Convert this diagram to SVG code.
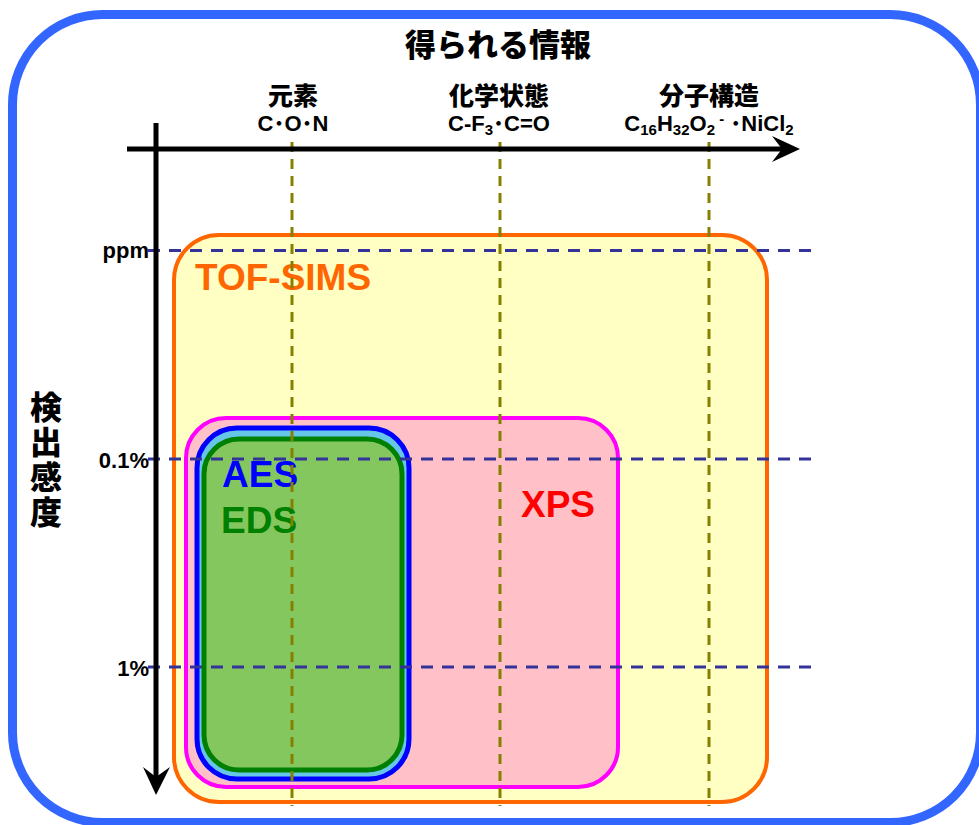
<svg xmlns="http://www.w3.org/2000/svg" width="979" height="825" viewBox="0 0 979 825">
<style>
.jp{font-family:"Liberation Sans","Noto Sans CJK JP",sans-serif;font-weight:900;fill:#000}
.lbl{font-family:"Liberation Sans",Arial,sans-serif;font-weight:bold}
.vd{stroke:#858000;stroke-width:3;stroke-dasharray:10,7;fill:none}
.hd{stroke:#333399;stroke-width:3;stroke-dasharray:12,9;fill:none}
.ax{stroke:#000;stroke-width:5;fill:none}
</style>
<rect x="0" y="0" width="979" height="825" fill="#fff"/>
<rect id="frame" x="12.5" y="14.5" width="968" height="808" rx="90" fill="#fff" stroke="#3366FF" stroke-width="9"/>
<g id="tofsims">
<rect x="174" y="235" width="593" height="567" rx="45" fill="#FFFFC4" stroke="#FF6600" stroke-width="4"/>
<text class="lbl" x="195" y="290" font-size="37" fill="#FF6600">TOF-SIMS</text>
</g>
<g id="xps">
<rect x="186" y="418" width="432" height="369" rx="40" fill="#FFC0C8" stroke="#FF00FF" stroke-width="4"/>
<text class="lbl" x="521" y="517" font-size="37" fill="#FF0000">XPS</text>
</g>
<g id="aes">
<rect x="197" y="428" width="212" height="351" rx="40" fill="#66C6E8" stroke="#0000FF" stroke-width="5"/>
</g>
<g id="eds">
<rect x="204" y="439" width="198" height="331" rx="35" fill="#85C75F" stroke="#008000" stroke-width="5"/>
<text class="lbl" x="221" y="533" font-size="37" fill="#008000">EDS</text>
</g>
<g id="aes-label">
<text class="lbl" x="222" y="487" font-size="37" fill="#0000FF">AES</text>
</g>
<g id="connectors">
<line class="vd" x1="292" y1="142" x2="292" y2="806"/>
<line class="vd" x1="500" y1="142" x2="500" y2="806"/>
<line class="vd" x1="709" y1="142" x2="709" y2="806"/>
<line class="hd" x1="148" y1="250.5" x2="815" y2="250.5"/>
<line class="hd" x1="148" y1="459" x2="815" y2="459"/>
<line class="hd" x1="148" y1="667" x2="815" y2="667"/>
<line class="ax" x1="127" y1="149" x2="785" y2="149"/>
<polygon points="800,149 772,136 782,149 772,162" fill="#000"/>
<line class="ax" x1="156" y1="123" x2="156" y2="780"/>
<polygon points="156,795 143,767 156,777 170,767" fill="#000"/>
</g>
<g id="title">
<text class="jp" x="498" y="56" font-size="31" text-anchor="middle">得られる情報</text>
</g>
<g id="xlabels">
<text class="jp" x="293" y="105" font-size="25" text-anchor="middle">元素</text>
<text class="jp" x="293" y="131" font-size="22" text-anchor="middle">C･O･N</text>
<text class="jp" x="499" y="105" font-size="25" text-anchor="middle">化学状態</text>
<text class="jp" x="499" y="131" font-size="22" text-anchor="middle">C-F<tspan font-size="15" dy="4">3</tspan><tspan dy="-4">･C=O</tspan></text>
<text class="jp" x="709" y="105" font-size="25" text-anchor="middle">分子構造</text>
<text class="jp" x="709" y="131" font-size="22" text-anchor="middle">C<tspan font-size="15" dy="4">16</tspan><tspan dy="-4">H</tspan><tspan font-size="15" dy="4">32</tspan><tspan dy="-4">O</tspan><tspan font-size="15" dy="4">2</tspan><tspan font-size="15" dy="-11"> -</tspan><tspan dy="7"> ･NiCl</tspan><tspan font-size="15" dy="4">2</tspan></text>
</g>
<g id="ylabels">
<text class="lbl" x="149" y="258" font-size="22" text-anchor="end">ppm</text>
<text class="lbl" x="149" y="468" font-size="22" text-anchor="end">0.1%</text>
<text class="lbl" x="149" y="676" font-size="22" text-anchor="end">1%</text>
<text class="jp" x="46" y="419" font-size="32" text-anchor="middle">検</text>
<text class="jp" x="46" y="454" font-size="32" text-anchor="middle">出</text>
<text class="jp" x="46" y="489" font-size="32" text-anchor="middle">感</text>
<text class="jp" x="46" y="524" font-size="32" text-anchor="middle">度</text>
</g>
</svg>
